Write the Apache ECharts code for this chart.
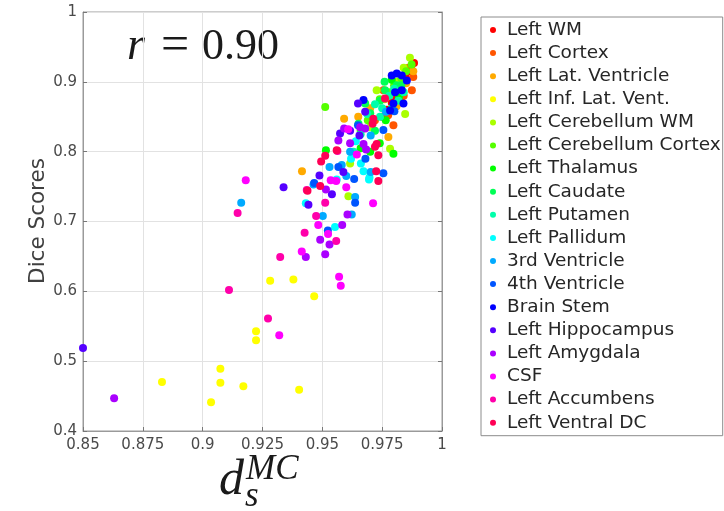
<!DOCTYPE html>
<html>
<head>
<meta charset="utf-8">
<script src="https://cdn.jsdelivr.net/npm/echarts@6/dist/echarts.min.js"></script>
<style>html,body{margin:0;padding:0;background:#fff}#c{width:724px;height:511px}</style>
</head>
<body>
<div id="c"></div>
<script>
// ---- data ----
const categories = ['Left WM','Left Cortex','Left Lat. Ventricle','Left Inf. Lat. Vent.','Left Cerebellum WM','Left Cerebellum Cortex','Left Thalamus','Left Caudate','Left Putamen','Left Pallidum','3rd Ventricle','4th Ventricle','Brain Stem','Left Hippocampus','Left Amygdala','CSF','Left Accumbens','Left Ventral DC'];
const colors = ['#ff0000','#ff5500','#ffaa00','#ffff00','#aaff00','#55ff00','#00ff00','#00ff55','#00ffaa','#00ffff','#00aaff','#0055ff','#0000ff','#5500ff','#aa00ff','#ff00ff','#ff00aa','#ff0055'];
const xTicks = [0.85, 0.875, 0.9, 0.925, 0.95, 0.975, 1];
const yTicks = [0.4, 0.5, 0.6, 0.7, 0.8, 0.9, 1];

const leftWM = [[0.9883,0.927],[0.9870,0.921],[0.9862,0.915],[0.9850,0.905],[0.9835,0.897],[0.9820,0.890],[0.9805,0.880],[0.9790,0.870],[0.9770,0.860],[0.9750,0.850]];
const leftCortex = [[0.9880,0.907],[0.9874,0.888],[0.9755,0.888],[0.9797,0.838],[0.9860,0.920],[0.9830,0.872],[0.9775,0.852],[0.9720,0.845],[0.9840,0.880]];
const leftLatVent = [[0.9415,0.772],[0.9591,0.847],[0.9776,0.821],[0.9880,0.915],[0.9700,0.862],[0.9810,0.865],[0.9650,0.850],[0.9850,0.898]];
const leftInfLatVent = [[0.883,0.470],[0.9035,0.441],[0.9074,0.489],[0.9074,0.469],[0.917,0.464],[0.9223,0.543],[0.9223,0.530],[0.9403,0.459],[0.9282,0.615],[0.9379,0.617],[0.9466,0.593]];
const leftCerebWM = [[0.9866,0.9345],[0.9783,0.804],[0.9846,0.854],[0.9727,0.888],[0.9616,0.783],[0.9609,0.736],[0.9840,0.920],[0.9810,0.900],[0.9760,0.875],[0.9700,0.835]];
const leftCerebCortex = [[0.9512,0.864],[0.9873,0.925],[0.9850,0.915],[0.9800,0.895],[0.9740,0.875],[0.9780,0.885],[0.9690,0.845],[0.9830,0.905],[0.9660,0.830]];
const leftThalamus = [[0.9515,0.802],[0.9790,0.903],[0.9740,0.812],[0.9700,0.800],[0.9820,0.878],[0.9765,0.845],[0.9660,0.805],[0.9797,0.797]];
const leftCaudate = [[0.9762,0.888],[0.9741,0.873],[0.9811,0.895],[0.9790,0.862],[0.9679,0.869],[0.9651,0.840],[0.9700,0.855],[0.9760,0.900],[0.9830,0.895],[0.9720,0.830]];
const leftPutamen = [[0.9818,0.873],[0.9741,0.850],[0.9688,0.854],[0.9780,0.880],[0.9800,0.890],[0.9750,0.862],[0.9660,0.825],[0.9720,0.868],[0.9840,0.885],[0.9630,0.800]];
const leftPallidum = [[0.9553,0.692],[0.9431,0.726],[0.9672,0.772],[0.9697,0.763],[0.9661,0.783],[0.9695,0.760],[0.9560,0.760],[0.9620,0.790],[0.9640,0.815]];
const ventricle3 = [[0.9161,0.727],[0.9463,0.753],[0.9502,0.708],[0.9637,0.735],[0.9581,0.781],[0.9530,0.778],[0.9616,0.800],[0.9702,0.771],[0.9766,0.857],[0.9702,0.823],[0.9623,0.710],[0.9600,0.765]];
const ventricle4 = [[0.9523,0.687],[0.9637,0.727],[0.9633,0.761],[0.9755,0.769],[0.9466,0.755],[0.9755,0.831],[0.9649,0.838],[0.9801,0.858],[0.9567,0.778],[0.9680,0.790]];
const brainStem = [[0.9672,0.874],[0.9811,0.912],[0.9832,0.909],[0.9804,0.885],[0.9832,0.888],[0.9797,0.869],[0.9839,0.869],[0.9853,0.902],[0.9790,0.909],[0.9783,0.859]];
const leftHippo = [[0.850,0.519],[0.9338,0.749],[0.9488,0.766],[0.9574,0.826],[0.9649,0.869],[0.9616,0.830],[0.9679,0.857],[0.9655,0.823],[0.9540,0.739],[0.9588,0.771],[0.9442,0.724]];
const leftAmygdala = [[0.863,0.447],[0.9515,0.746],[0.9583,0.695],[0.9491,0.674],[0.9530,0.667],[0.9431,0.649],[0.9512,0.653],[0.9605,0.710],[0.9591,0.833],[0.9616,0.812],[0.9567,0.816],[0.9672,0.811],[0.9679,0.833],[0.9683,0.803],[0.9658,0.835]];
const csf = [[0.918,0.759],[0.932,0.537],[0.957,0.621],[0.9577,0.608],[0.9712,0.726],[0.960,0.749],[0.9483,0.695],[0.9524,0.682],[0.9414,0.657],[0.9535,0.759],[0.9558,0.758],[0.9608,0.832],[0.9644,0.796]];
const leftAccumbens = [[0.911,0.602],[0.9273,0.561],[0.9324,0.649],[0.9146,0.712],[0.9426,0.684],[0.9474,0.708],[0.9512,0.727],[0.9558,0.672],[0.9435,0.745],[0.9563,0.801]];
const leftVentralDC = [[0.9438,0.744],[0.9491,0.751],[0.9734,0.758],[0.9725,0.772],[0.9727,0.811],[0.9734,0.795],[0.9710,0.840],[0.9495,0.786],[0.9512,0.794],[0.9713,0.847],[0.9720,0.807],[0.9762,0.876],[0.9560,0.802]];

const allData = [leftWM,leftCortex,leftLatVent,leftInfLatVent,leftCerebWM,leftCerebCortex,leftThalamus,leftCaudate,leftPutamen,leftPallidum,ventricle3,ventricle4,brainStem,leftHippo,leftAmygdala,csf,leftAccumbens,leftVentralDC];

// ---- chart ----
const chart = echarts.init(document.getElementById('c'), null, {renderer: 'canvas'});
const fmt = v => String(parseFloat(v.toFixed(3)));
const xInt = +(xTicks[1] - xTicks[0]).toFixed(3);
const yInt = +(yTicks[1] - yTicks[0]).toFixed(3);
const axisCommon = {
  axisLine: {show: true, lineStyle: {color: '#9a9a9a', width: 1}},
  axisTick: {show: true, inside: true, length: 4, lineStyle: {color: '#777'}},
  splitLine: {show: true, lineStyle: {color: '#e2e2e2', width: 1}}
};
const series = categories.map((name, i) => ({
  name: name,
  type: 'scatter',
  data: allData[i],
  symbol: 'circle',
  symbolSize: 8,
  itemStyle: {color: colors[i], opacity: 1},
  emphasis: {disabled: true},
  animation: false
}));

chart.setOption({
  animation: false,
  grid: {left: 83, top: 12, width: 359, height: 419, show: true, borderColor: '#9a9a9a', borderWidth: 1, backgroundColor: '#fff'},
  xAxis: [Object.assign({
    type: 'value', min: xTicks[0], max: xTicks[xTicks.length - 1], interval: xInt,
    axisLabel: {formatter: fmt, color: '#4a4a4a', fontFamily: 'DejaVu Sans', fontSize: 15, margin: 7}
  }, axisCommon)],
  yAxis: [Object.assign({
    type: 'value', min: yTicks[0], max: yTicks[yTicks.length - 1], interval: yInt,
    axisLabel: {formatter: fmt, color: '#4a4a4a', fontFamily: 'DejaVu Sans', fontSize: 15, margin: 6}
  }, axisCommon),
  {type: 'value', position: 'right', min: yTicks[0], max: yTicks[yTicks.length - 1], interval: yInt,
   axisLine: {show: true, lineStyle: {color: '#9a9a9a'}}, axisTick: {show: true, inside: true, length: 4, lineStyle: {color: '#777'}},
   axisLabel: {show: false}, splitLine: {show: false}}],
  legend: {
    orient: 'vertical', left: 481, top: 17,
    data: categories,
    icon: 'circle', itemWidth: 18, itemHeight: 6, itemGap: 3.1,
    padding: [3, 2, 3, 9],
    borderColor: '#8c8c8c', borderWidth: 1, backgroundColor: '#fff',
    textStyle: {fontFamily: 'DejaVu Sans', fontSize: 18.5, color: '#262626', lineHeight: 20},
    selectedMode: false
  },
  graphic: [
    {type: 'text', x: 38, y: 221, rotation: Math.PI / 2,
     style: {text: 'Dice Scores', fontFamily: 'DejaVu Sans', fontSize: 21.5, fill: '#404040', align: 'center', verticalAlign: 'middle'}},
    {type: 'text', x: 127, y: 47, style: {text: 'r', fontFamily: 'Liberation Serif', fontStyle: 'italic', fontSize: 46, fill: '#1a1a1a', align: 'left', verticalAlign: 'middle'}},
    {type: 'text', x: 161, y: 47, style: {text: '=', fontFamily: 'Liberation Serif', fontSize: 50, fill: '#1a1a1a', align: 'left', verticalAlign: 'middle'}},
    {type: 'text', x: 202, y: 47, style: {text: '0.90', fontFamily: 'Liberation Serif', fontSize: 44, fill: '#1a1a1a', align: 'left', verticalAlign: 'middle'}},
    {type: 'text', x: 219, y: 481, style: {text: 'd', fontFamily: 'Liberation Serif', fontStyle: 'italic', fontSize: 50, fill: '#1a1a1a', align: 'left', verticalAlign: 'middle'}},
    {type: 'text', x: 246, y: 470, style: {text: 'MC', fontFamily: 'Liberation Serif', fontStyle: 'italic', fontSize: 35, fill: '#1a1a1a', align: 'left', verticalAlign: 'middle'}},
    {type: 'text', x: 245, y: 497, style: {text: 's', fontFamily: 'Liberation Serif', fontStyle: 'italic', fontSize: 35, fill: '#1a1a1a', align: 'left', verticalAlign: 'middle'}}
  ],
  series: series
});
</script>
</body>
</html>
